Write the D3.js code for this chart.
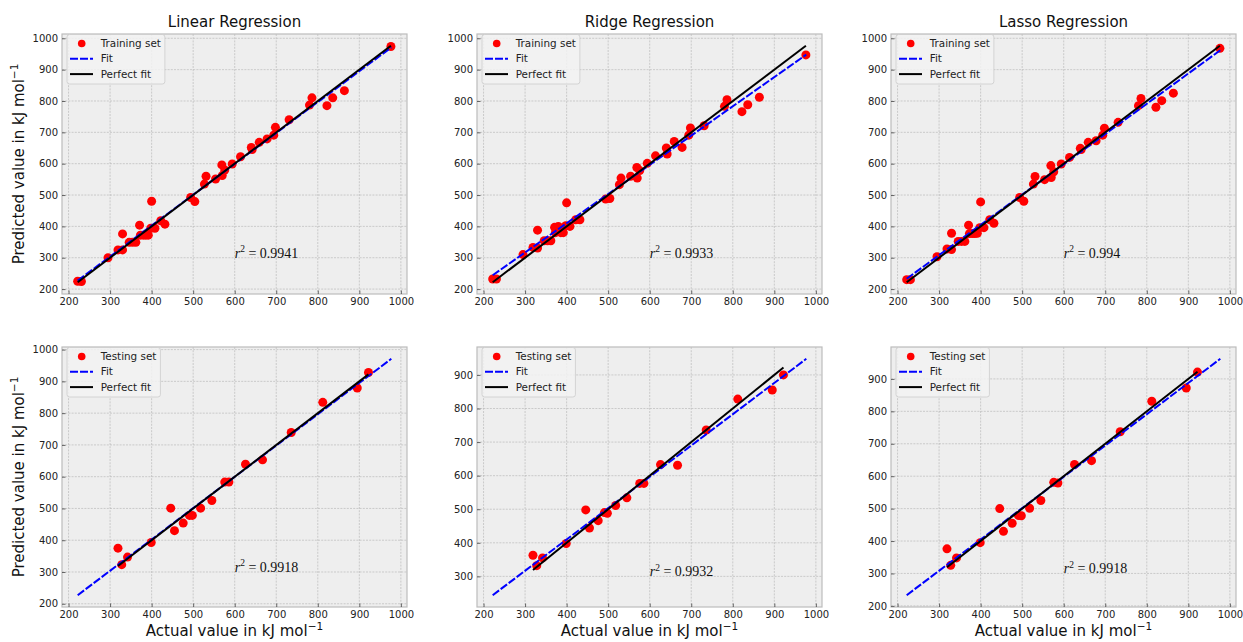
<!DOCTYPE html>
<html>
<head>
<meta charset="utf-8">
<script src="https://cdn.jsdelivr.net/npm/d3@7"></script>
<style>
  body { margin: 0; background: #fff; }
  svg { display: block; font-family: "DejaVu Sans", sans-serif; }
</style>
</head>
<body>
<svg id="chart" width="1243" height="642"></svg>
<script>
//
// Data
//
var modelNames = ['Linear Regression', 'Ridge Regression', 'Lasso Regression']

var trainActual = [222, 231, 295, 319, 330, 330, 346, 354, 362, 371, 373, 380, 386, 392, 398, 400, 408, 422, 432, 494, 504, 527, 531, 554, 569, 570, 576, 594, 614, 640, 642, 659, 678, 694, 698, 731, 780, 786, 822, 836, 864, 976]
var trainLinear = [225, 224, 300, 325, 325, 376, 349, 349, 349, 404, 372, 372, 372, 372, 394, 480, 394, 418, 407, 492, 479, 535, 560, 551, 596, 562, 580, 599, 622, 652, 645, 668, 679, 691, 716, 740, 787, 810, 785, 810, 833, 974]
var trainRidge = [232, 232, 310, 333, 331, 388, 354, 354, 354, 397, 380, 400, 380, 380, 402, 475, 400, 421, 421, 487, 489, 533, 554, 560, 588, 554, 578, 601, 625, 650, 631, 671, 652, 691, 714, 721, 783, 804, 766, 788, 812, 947]
var trainLasso = [230, 230, 303, 328, 326, 378, 352, 352, 352, 404, 377, 377, 377, 378, 396, 478, 396, 421, 410, 492, 480, 535, 559, 549, 594, 556, 574, 599, 620, 649, 645, 668, 673, 691, 713, 732, 785, 808, 780, 801, 825, 968]

var testActual = [319, 328, 342, 399, 446, 455, 476, 491, 498, 518, 545, 576, 586, 626, 667, 736, 812, 895, 922]
var testLinear = [375, 323, 347, 393, 501, 430, 454, 478, 478, 501, 525, 583, 583, 639, 653, 739, 834, 879, 928]
var testRidge = [363, 332, 355, 398, 498, 444, 466, 490, 488, 511, 534, 577, 577, 633, 631, 736, 828, 855, 900]
var testLasso = [376, 325, 348, 395, 500, 430, 455, 479, 478, 501, 525, 581, 579, 636, 648, 737, 831, 872, 921]

// fitted lines: x ends and y at those ends, per model
var fitX = [222, 977]
var fitLinear = [227, 971]
var fitRidge = [244, 948]
var fitLasso = [233, 962]

var r2Train = ['0.9941', '0.9933', '0.994']
var r2Test = ['0.9918', '0.9932', '0.9918']
var r2Pos = [600, 300]

var setNames = ['Training set', 'Testing set']

//
// Layout
//
var panelLeft = [62, 477, 891]
var rowTop = [34, 347]
var pw = 345, ph = 260
var dash = '8,2'

var svg = d3.select('#chart')

function pad(ext) {
  var m = (ext[1] - ext[0]) * 0.05
  return [ext[0] - m, ext[1] + m]
}

function drawPanel(col, row, actual, pred, fitY, r2) {
  var g = svg.append('g').attr('transform', 'translate(' + panelLeft[col] + ',' + rowTop[row] + ')')

  var x = d3.scaleLinear()
    .domain(pad(d3.extent(actual.concat(fitX))))
    .range([0, pw])
  var y = d3.scaleLinear()
    .domain(pad(d3.extent(pred.concat(fitY, actual))))
    .range([ph, 0])

  g.append('rect').attr('width', pw).attr('height', ph).attr('fill', '#eeeeee')

  // grid
  g.append('g').selectAll('line').data(x.ticks(10)).join('line')
    .attr('x1', d => x(d)).attr('x2', d => x(d)).attr('y1', 0).attr('y2', ph)
    .attr('stroke', '#b2b2b2').attr('stroke-width', 0.6).attr('stroke-dasharray', '2,1.2')
  g.append('g').selectAll('line').data(y.ticks(10)).join('line')
    .attr('y1', d => y(d)).attr('y2', d => y(d)).attr('x1', 0).attr('x2', pw)
    .attr('stroke', '#b2b2b2').attr('stroke-width', 0.6).attr('stroke-dasharray', '2,1.2')

  // points
  g.append('g').selectAll('circle').data(actual).join('circle')
    .attr('cx', d => x(d)).attr('cy', (d, i) => y(pred[i])).attr('r', 4.5)
    .attr('fill', '#ff0000')

  // fit
  var line = d3.line().x(d => x(d[0])).y(d => y(d[1]))
  g.append('path').datum([[fitX[0], fitY[0]], [fitX[1], fitY[1]]])
    .attr('d', line).attr('fill', 'none').attr('stroke', '#0000ff')
    .attr('stroke-width', 2).attr('stroke-dasharray', dash)

  // perfect fit
  var ext = d3.extent(actual)
  g.append('path').datum([[ext[0], ext[0]], [ext[1], ext[1]]])
    .attr('d', line).attr('fill', 'none').attr('stroke', '#000')
    .attr('stroke-width', 2)

  // frame
  g.append('rect').attr('width', pw).attr('height', ph)
    .attr('fill', 'none').attr('stroke', '#bcbcbc').attr('stroke-width', 1.2)

  // axes
  var fmt = d3.format('d')
  var xa = g.append('g').attr('transform', 'translate(0,' + ph + ')')
    .call(d3.axisBottom(x).ticks(10).tickFormat(fmt).tickSize(-3.5).tickPadding(4))
  var ya = g.append('g')
    .call(d3.axisLeft(y).ticks(10).tickFormat(fmt).tickSize(-3.5).tickPadding(4))
  ;[xa, ya].forEach(function(a) {
    a.select('.domain').remove()
    a.selectAll('line').attr('stroke', '#444').attr('stroke-width', 0.8)
    a.selectAll('text').attr('fill', '#222').style('font-size', '10px')
      .style('font-family', '"DejaVu Sans", sans-serif')
  })

  // r^2
  var t = g.append('text')
    .attr('x', x(r2Pos[0])).attr('y', y(r2Pos[1]))
    .style('font-family', '"Liberation Serif", serif').style('font-size', '14px')
    .attr('fill', '#111')
  t.append('tspan').style('font-style', 'italic').text('r')
  t.append('tspan').attr('dy', -5.5).style('font-size', '9.5px').text('2')
  t.append('tspan').attr('dy', 5.5).text(' = ' + r2)

  // legend
  var lg = g.append('g').attr('transform', 'translate(5,5)')
  var box = lg.append('rect').attr('rx', 2.5).attr('ry', 2.5)
    .attr('fill', '#f2f2f2').attr('fill-opacity', 0.85)
    .attr('stroke', '#cccccc').attr('stroke-width', 0.8)
  var rows = [4.5, 19.8, 35.1]
  lg.append('circle').attr('cx', 14.7).attr('cy', rows[0]).attr('r', 3.8).attr('fill', '#ff0000')
  lg.append('line').attr('x1', 3).attr('x2', 26).attr('y1', rows[1]).attr('y2', rows[1])
    .attr('stroke', '#0000ff').attr('stroke-width', 2).attr('stroke-dasharray', dash)
  lg.append('line').attr('x1', 3).attr('x2', 26).attr('y1', rows[2]).attr('y2', rows[2])
    .attr('stroke', '#000').attr('stroke-width', 2)
  var labels = [setNames[row], 'Fit', 'Perfect fit']
  var maxW = 0
  labels.forEach(function(s, i) {
    var tx = lg.append('text').attr('x', 33.7).attr('y', rows[i]).attr('dy', '0.35em')
      .style('font-size', '10.4px').attr('fill', '#222').text(s)
    maxW = Math.max(maxW, tx.node().getComputedTextLength())
  })
  box.attr('x', 0).attr('y', -4.5).attr('width', 33.7 + maxW + 4).attr('height', 49.5)

  if (row === 0) {
    svg.append('text')
      .attr('x', panelLeft[col] + pw / 2).attr('y', rowTop[row] - 7)
      .attr('text-anchor', 'middle').style('font-size', '15px').attr('fill', '#111')
      .text(modelNames[col])
  }
}

function unitLabel(sel, s) {
  sel.append('tspan').text(s + ' in kJ mol')
  sel.append('tspan').attr('dy', -6).style('font-size', '10.5px').text('\u22121')
}

var trainPreds = [trainLinear, trainRidge, trainLasso]
var testPreds = [testLinear, testRidge, testLasso]
var fits = [fitLinear, fitRidge, fitLasso]

for (var c = 0; c < 3; c++) {
  drawPanel(c, 0, trainActual, trainPreds[c], fits[c], r2Train[c])
  drawPanel(c, 1, testActual, testPreds[c], fits[c], r2Test[c])
}

// axis titles
rowTop.forEach(function(t) {
  var yl = svg.append('text')
    .attr('transform', 'translate(23.5,' + (t + ph / 2) + ') rotate(-90)')
    .attr('text-anchor', 'middle').style('font-size', '15px').attr('fill', '#111')
  unitLabel(yl, 'Predicted value')
})
panelLeft.forEach(function(l) {
  var xl = svg.append('text')
    .attr('x', l + pw / 2).attr('y', 636)
    .attr('text-anchor', 'middle').style('font-size', '15px').attr('fill', '#111')
  unitLabel(xl, 'Actual value')
})
</script>
</body>
</html>
